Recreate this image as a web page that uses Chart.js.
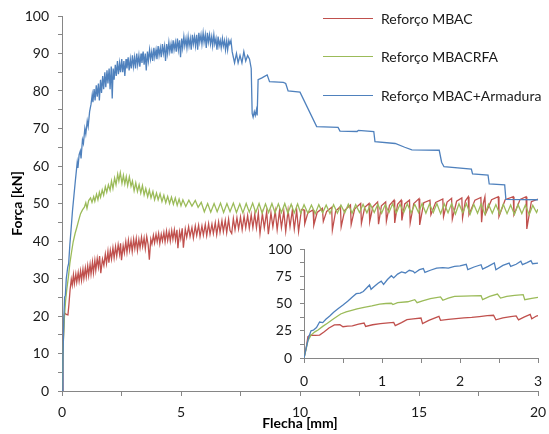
<!DOCTYPE html>
<html>
<head>
<meta charset="utf-8">
<script src="https://cdn.jsdelivr.net/npm/chart.js@4.4.1/dist/chart.umd.min.js"></script>
<style>
  body { margin: 0; background: #fff; }
  #wrap { position: relative; width: 549px; height: 434px; overflow: hidden; font-family: Lato, "Open Sans", sans-serif; }
  #main { position: absolute; left: 0; top: 0; }
  #inset { position: absolute; left: 258px; top: 238px; }
  #legend { position: absolute; left: 323px; top: 8px; }
  .row { display: flex; align-items: center; height: 20px; margin-bottom: 18.5px; font-size: 14px; color: #1a1a1a; white-space: nowrap; }
  .swatch { width: 50px; height: 0; border-top: 1.4px solid; margin-right: 8px; }
</style>
</head>
<body>
<div id="wrap">
  <canvas id="main" width="549" height="434"></canvas>
  <canvas id="inset" width="287" height="152"></canvas>
  <div id="legend"></div>
</div>
<script>
// series names and colours
const seriesNames = ['Reforço MBAC', 'Reforço MBACRFA', 'Reforço MBAC+Armadura'];
const seriesColors = ['#C0504D', '#9BBB59', '#4F81BD'];

// main curves: [flecha mm, força kN]
const mbac = [
  [0,0],[0.04,10],[0.08,19],[0.11,20.8],[0.18,20.4],[0.25,20.3],[0.29,23],[0.34,27],[0.39,29.8],[0.43,28.2],
  [0.48,31],[0.52,28.6],[0.58,31.2],[0.62,29],[0.68,31.6],[0.72,29.3],[0.78,32],[0.82,29.5],[0.88,32.5],[0.92,30],
  [0.98,32.8],[1.02,30.4],[1.08,33.4],[1.12,30.8],[1.18,33.8],[1.22,31.2],[1.28,34.4],[1.32,31.5],[1.38,34.8],[1.42,32.2],
  [1.48,35.3],[1.53,33],[1.58,36],[1.63,31.4],[1.7,35.2],[1.76,33.5],[1.82,36.5],[1.87,34],[1.93,37.2],[1.97,34.2],
  [2.03,37.5],[2.08,35.2],[2.14,38.2],[2.19,35.5],[2.25,38.5],[2.3,36],[2.36,39],[2.42,36.5],[2.46,39.4],[2.5,34.9],
  [2.57,38.8],[2.62,36.8],[2.68,39.8],[2.73,37],[2.79,40.2],[2.84,37.5],[2.9,40.1],[2.95,37.2],[3.01,40.5],[3.06,38],
  [3.12,40.7],[3.17,37.5],[3.23,40.4],[3.28,38.2],[3.34,41],[3.39,38.5],[3.45,40.8],[3.5,38],[3.56,41.2],[3.62,39],
  [3.67,35],[3.73,40.5],[3.78,39.2],[3.84,41.5],[3.89,39.5],[3.95,41.8],[4.0,39.8],[4.06,42],[4.11,39.3],[4.17,41.8],
  [4.22,40],[4.28,42.3],[4.33,39.8],[4.39,42.6],[4.44,40.2],[4.5,42.5],[4.55,40],[4.61,42.8],[4.66,40.5],[4.72,43],
  [4.77,40.3],[4.83,43],[4.87,38.1],[4.94,42.5],[4.99,40.6],[5.05,43.4],[5.1,38.2],[5.18,43.2],[5.24,41],[5.32,43.8],
  [5.38,41.2],[5.46,43.6],[5.52,40.8],[5.6,44],[5.66,41.5],[5.74,44.2],[5.8,41.2],[5.88,44],[5.94,41.6],[6.02,44.4],
  [6.08,41.4],[6.16,44.6],[6.22,41.8],[6.3,44.5],[6.36,42],[6.44,44.9],[6.5,41.7],[6.58,45.1],[6.64,42.3],[6.72,45.4],
  [6.78,42.5],[6.86,45.5],[6.92,42.2],[7.0,45.8],[7.06,42.8],[7.13,42],[7.2,46],[7.27,43],[7.35,46.2],[7.42,43.2],
  [7.5,46.4],[7.57,43],[7.65,46.6],[7.72,43.5],[7.8,46.8],[7.87,43.4],[7.95,47],[8.02,43.6],[8.1,47.2],[8.17,43.5],
  [8.25,47.4],[8.32,42],[8.42,47.3],[8.5,43.5],[8.6,47.8],[8.67,41.8],[8.78,47.5],[8.86,43.8],[8.96,48],[9.04,43],
  [9.14,48.1],[9.22,43.6],[9.32,47.9],[9.4,42.6],[9.5,48.2],[9.58,43.8],[9.68,48.3],[9.76,43.2],[9.86,48.2],[9.94,42.5],
  [10.06,48.4],[10.17,48.3],[10.2,44.6],[10.33,47.5],[10.55,48.3],[10.58,44.2],[10.72,47.6],[10.94,48.7],[10.98,45.2],[11.12,47.9],
  [11.33,49],[11.36,42.9],[11.5,48],[11.7,49.2],[11.73,43.8],[11.88,48.2],[12.12,49.6],[12.15,44.4],[12.3,48.6],[12.55,50],
  [12.58,44.7],[12.72,49],[12.9,50],[12.93,45.2],[13.06,49.1],[13.26,50.4],[13.3,44.5],[13.42,49.4],[13.6,50.4],[13.63,45.3],
  [13.76,49.5],[13.95,50.9],[13.98,44.8],[14.1,49.8],[14.25,50.9],[14.28,45.5],[14.4,49.9],[14.6,50.9],[14.63,44.8],[14.78,50],
  [15.0,51.3],[15.03,44.3],[15.2,50.2],[15.46,50.9],[15.5,47],[15.7,50.3],[16.0,51.2],[16.03,46.5],[16.18,50.4],[16.37,51.4],
  [16.4,45.8],[16.58,50.6],[16.8,51.5],[16.83,46.2],[16.95,50.7],[17.07,51.8],[17.1,47],[17.35,50.9],[17.6,51.6],[17.63,45],
  [17.7,50],[17.77,51.8],[17.8,47.3],[18.05,51],[18.33,51.8],[18.36,46.5],[18.62,51],[18.96,51.8],[18.99,47],[19.25,51.1],
  [19.5,51.8],[19.53,43.2],[19.72,50.5],[20,51.2]
];

const mbacrfa = [
  [0,0],[0.05,12],[0.1,19.5],[0.15,24],[0.2,27],[0.27,30.5],[0.33,34],[0.4,37],[0.47,39.8],[0.55,42],
  [0.63,43.8],[0.7,45.5],[0.78,47.3],[0.86,48.3],[0.94,49],[1.0,50.2],[1.05,48.7],[1.12,50.8],[1.2,51.5],[1.26,50.3],
  [1.33,51.8],[1.38,50.6],[1.45,52.5],[1.51,51],[1.57,53],[1.62,51.7],[1.69,53.6],[1.75,52.2],[1.82,54.5],[1.88,53],
  [1.95,55],[2.02,53.5],[2.08,56],[2.14,54],[2.21,56.8],[2.27,55],[2.34,57.8],[2.39,56],[2.45,58.2],[2.52,55.4],
  [2.58,57.5],[2.64,55.2],[2.7,57.2],[2.76,54.8],[2.83,57.1],[2.9,54.6],[2.96,56],[3.03,53.4],[3.1,55.5],[3.17,53.2],
  [3.24,55],[3.31,52.8],[3.38,54.8],[3.45,52.3],[3.52,54],[3.6,51.8],[3.67,53.6],[3.74,51.5],[3.82,53.2],[3.89,51],
  [3.97,52.8],[4.04,51],[4.12,52.6],[4.2,50.5],[4.28,52.2],[4.36,50.2],[4.44,51.9],[4.52,50],[4.6,51.7],[4.68,49.8],
  [4.76,51.5],[4.84,49.5],[4.92,51.2],[5.0,49.4],[5.08,51],[5.2,49.2],[5.33,50.9],[5.46,49.3],[5.6,50.8],[5.72,49],
  [5.85,50.3],[5.98,47.8],[6.12,50],[6.25,47.7],[6.39,50],[6.52,47.8],[6.66,50.1],[6.79,47.6],[6.93,50],[7.06,47.8],
  [7.2,50.1],[7.33,47.6],[7.47,49.9],[7.6,47.5],[7.74,50],[7.87,47.7],[8.01,50.1],[8.14,47.6],[8.28,50],[8.41,47.4],
  [8.55,49.9],[8.68,47.6],[8.82,50],[8.95,47.5],[9.09,49.9],[9.22,47.6],[9.36,50],[9.49,47.4],[9.63,49.8],[9.76,47.5],
  [9.9,49.9],[10.03,47.4],[10.17,49.7],[10.33,47.4],[10.48,49.6],[10.64,47.3],[10.79,49.7],[10.95,47.5],[11.1,49.6],[11.26,47.3],
  [11.41,49.7],[11.57,47.4],[11.72,49.6],[11.88,47.5],[12.03,49.8],[12.19,47.4],[12.34,49.7],[12.5,47.6],[12.65,49.8],[12.81,47.5],
  [12.96,49.7],[13.12,47.6],[13.27,49.8],[13.43,47.4],[13.58,49.7],[13.74,47.6],[13.89,49.9],[14.05,47.5],[14.2,49.8],[14.36,47.6],
  [14.51,49.9],[14.67,47.5],[14.82,49.8],[14.98,47.6],[15.13,50],[15.29,47.4],[15.44,49.9],[15.6,47.6],[15.75,50],[15.91,47.3],
  [16.06,49.9],[16.22,47.5],[16.37,50],[16.53,47.2],[16.68,49.9],[16.84,47.5],[16.99,50],[17.15,47.2],[17.3,49.8],[17.46,47.4],
  [17.61,49.9],[17.77,47.1],[17.92,49.8],[18.08,47.4],[18.23,49.7],[18.39,47.2],[18.54,49.8],[18.7,47.3],[18.85,49.6],[19.01,47.1],
  [19.16,49.7],[19.32,47.3],[19.47,49.6],[19.63,47],[19.78,49.5],[19.94,47.6],[20,48.5]
];

const mbacArm = [
  [0,0],[0.04,9],[0.08,20],[0.11,25],[0.14,25.5],[0.18,30],[0.24,33],[0.28,34],[0.33,39],[0.38,43],
  [0.44,48],[0.5,52],[0.56,56],[0.6,58.5],[0.64,61],[0.67,59.5],[0.72,63],[0.77,64],[0.8,62],[0.86,67],
  [0.9,66],[0.96,70],[1.0,68.5],[1.06,72],[1.1,70.5],[1.16,74.5],[1.22,76.5],[1.27,79],[1.3,77],[1.35,80.5],
  [1.39,77.5],[1.44,81.5],[1.48,78.5],[1.53,82],[1.57,77.5],[1.62,83],[1.66,79.5],[1.71,84],[1.75,80.5],[1.8,85],
  [1.84,81],[1.89,85.5],[1.93,82],[1.98,86],[2.02,80.5],[2.07,86.5],[2.11,78],[2.15,86],[2.19,83],[2.24,87],
  [2.28,84],[2.33,88],[2.37,84.5],[2.42,87.5],[2.46,85],[2.51,88.5],[2.55,85],[2.6,88],[2.64,84],[2.69,88.5],
  [2.73,86],[2.78,89],[2.82,85.5],[2.87,88.5],[2.91,86],[2.96,89.5],[3.0,86.5],[3.05,89],[3.09,86],[3.14,90],
  [3.18,87],[3.23,89.5],[3.27,86.5],[3.32,90],[3.36,87.5],[3.41,90.5],[3.45,87],[3.5,90],[3.54,85.5],[3.59,90.5],
  [3.63,88],[3.68,91],[3.72,88.5],[3.77,90.5],[3.81,88],[3.86,91.5],[3.9,89],[3.95,91],[3.99,88.5],[4.04,92],
  [4.08,89.5],[4.13,91.5],[4.17,89],[4.22,92.5],[4.26,90],[4.31,92],[4.35,88],[4.4,92.5],[4.44,90],[4.49,93],
  [4.53,90.5],[4.58,92.5],[4.62,90],[4.67,93.5],[4.71,91],[4.76,93],[4.8,90.5],[4.85,94],[4.89,91],[4.94,93.5],
  [4.98,89],[5.03,94],[5.07,91.5],[5.12,94.5],[5.16,92],[5.21,94],[5.25,91.5],[5.3,94.5],[5.34,92],[5.39,94],
  [5.43,91],[5.48,95],[5.52,92.5],[5.57,94.5],[5.61,92],[5.66,95],[5.7,91],[5.75,95.5],[5.79,93],[5.84,95],
  [5.88,92.5],[5.93,95.5],[5.97,93],[6.02,95],[6.06,91.5],[6.11,95.5],[6.15,93],[6.2,95],[6.24,92.5],[6.29,94.5],
  [6.33,92],[6.38,95],[6.42,92.5],[6.47,94],[6.51,91],[6.56,94.5],[6.6,92],[6.65,93.5],[6.69,91.5],[6.74,94],
  [6.78,92],[6.83,93.5],[6.87,91],[6.92,93.5],[6.96,91],[7.01,93.5],[7.05,92.5],[7.1,93.5],[7.15,90.5],[7.2,89],
  [7.25,87.5],[7.33,90],[7.4,87.5],[7.48,89.5],[7.56,87.5],[7.64,90.5],[7.72,88],[7.8,89.5],[7.88,88.5],[7.95,86],
  [7.99,74],[8.03,73],[8.08,74.5],[8.12,73.5],[8.17,75],[8.2,73.5],[8.24,83],[8.4,83.5],[8.62,84.3],[8.72,82.5],
  [9.3,82.3],[9.4,82],[9.5,80],[10.0,79.7],[10.7,70.5],[11.6,70.3],[11.68,69.3],[12.4,69.2],[12.45,69.5],[13.1,69.2],
  [13.15,66.5],[14.0,66],[14.4,65],[14.7,64.3],[15.85,64.2],[15.95,61],[16.05,59.8],[17.2,59.2],[17.25,57.9],[17.9,57.6],
  [17.95,55.2],[18.6,55],[18.65,51.1],[20,51]
];

// inset curves, first 3 mm
const mbacIn = [
  [0,0],[0.03,10],[0.05,19.6],[0.08,21],[0.14,20.8],[0.2,21],[0.26,24],[0.32,27.5],[0.39,30.3],[0.46,30.6],
  [0.5,28.7],[0.56,29.3],[0.62,29.5],[0.7,31],[0.77,32.1],[0.79,29],[0.88,30.5],[0.98,31.5],[1.08,32.2],[1.15,32.7],
  [1.17,29.7],[1.25,32.5],[1.32,35.2],[1.4,35.8],[1.5,36.7],[1.52,31.5],[1.6,34.5],[1.73,38.2],[1.75,34.6],[1.85,35.5],
  [1.95,36.2],[2.05,36.8],[2.15,37.3],[2.25,38],[2.35,38.8],[2.43,39.2],[2.46,35],[2.55,36.8],[2.65,38],[2.72,38.6],
  [2.75,35],[2.82,37.5],[2.9,40],[2.92,36],[2.98,38.5],[3.0,39]
];
const mbacrfaIn = [
  [0,0],[0.03,9],[0.05,16],[0.09,21],[0.14,24],[0.18,25.7],[0.24,29],[0.3,31.8],[0.38,36],[0.47,40.4],
  [0.54,42.3],[0.6,43.4],[0.68,45],[0.77,46.5],[0.87,47.8],[0.97,49.5],[1.05,50],[1.12,50.2],[1.14,49],[1.2,50.8],
  [1.33,51.6],[1.42,53.5],[1.45,50.8],[1.52,52.5],[1.62,54.5],[1.75,56],[1.78,53],[1.85,55],[1.93,56.6],[2.05,56.8],
  [2.15,57],[2.27,57.2],[2.29,53.5],[2.38,56.5],[2.48,58.7],[2.52,55],[2.6,56.5],[2.7,57.5],[2.81,58.1],[2.83,53.5],
  [2.92,54.8],[3.0,55.6]
];
const mbacArmIn = [
  [0,0],[0.03,10],[0.06,19],[0.09,25],[0.12,25.5],[0.16,28],[0.2,33],[0.24,32.5],[0.28,35.5],[0.33,38.5],
  [0.38,42],[0.44,45.5],[0.5,48.6],[0.56,52],[0.62,56],[0.67,59],[0.72,59.5],[0.76,61],[0.8,64],[0.84,67],
  [0.86,63],[0.9,65.5],[0.95,68.5],[0.99,70.5],[1.02,67.5],[1.07,72],[1.12,75.5],[1.15,73.5],[1.2,77],[1.25,79],
  [1.3,78],[1.35,80.5],[1.4,79.5],[1.42,78],[1.48,81],[1.53,82],[1.55,78.5],[1.62,80.5],[1.7,82.5],[1.78,83],
  [1.85,82.5],[1.93,84],[2.0,84.5],[2.08,86],[2.1,81],[2.18,83.5],[2.27,85.6],[2.29,81.5],[2.36,84],[2.44,87.2],
  [2.46,81],[2.55,85],[2.63,87],[2.65,84],[2.72,86],[2.78,88.7],[2.8,85.6],[2.86,87.5],[2.91,89.3],[2.93,86.5],
  [3.0,87]
];

const FONT = 'Lato, "Open Sans", sans-serif';
const AXIS_GREY = '#868686';

function toXY(pts) {
  return pts.map(p => ({ x: p[0], y: p[1] }));
}

function makeDatasets(list) {
  return list.map((pts, i) => ({
    label: seriesNames[i],
    data: toXY(pts),
    borderColor: seriesColors[i],
    borderWidth: 1.3,
    pointRadius: 0,
    tension: 0,
    order: 3 - i
  }));
}

// linear axis with minor ticks; only every `labelEvery` gets a label.
// fit() pins the axis size and drops the extra edge padding chart.js adds for labels
function makeAxis(opts) {
  const axis = {
    type: 'linear',
    min: opts.min,
    max: opts.max,
    border: { color: AXIS_GREY, width: 1 },
    grid: { drawOnChartArea: false, drawTicks: true, tickLength: opts.tickLength, color: AXIS_GREY },
    ticks: {
      stepSize: opts.step,
      autoSkip: false,
      maxRotation: 0,
      padding: opts.pad,
      color: '#1a1a1a',
      font: { family: FONT, size: 14 },
      callback: v => (Math.abs(v / opts.labelEvery - Math.round(v / opts.labelEvery)) < 1e-6 ? v : '')
    },
    afterFit: s => {
      opts.fit(s);
      s.paddingLeft = 0; s.paddingRight = 0; s.paddingTop = 0; s.paddingBottom = 0;
    }
  };
  if (opts.title) {
    axis.title = {
      display: true,
      text: opts.title,
      color: '#000',
      font: { family: FONT, size: 14, weight: 'bold' },
      padding: opts.titlePad
    };
  }
  return axis;
}

new Chart(document.getElementById('main'), {
  type: 'line',
  data: { datasets: makeDatasets([mbac, mbacrfa, mbacArm]) },
  options: {
    responsive: false,
    animation: false,
    layout: { padding: { left: 0, right: 11, top: 16, bottom: 0 } },
    plugins: { legend: { display: false }, tooltip: { enabled: false } },
    scales: {
      x: makeAxis({ min: 0, max: 20, step: 2.5, labelEvery: 5, tickLength: 5, pad: 8,
        title: 'Flecha [mm]', titlePad: { top: 0, bottom: 2 }, fit: s => { s.height = 43; } }),
      y: makeAxis({ min: 0, max: 100, step: 5, labelEvery: 10, tickLength: 4, pad: 9,
        title: 'Força [kN]', titlePad: { top: 9, bottom: 0 }, fit: s => { s.width = 62; } })
    }
  }
});

new Chart(document.getElementById('inset'), {
  type: 'line',
  data: { datasets: makeDatasets([mbacIn, mbacrfaIn, mbacArmIn]) },
  options: {
    responsive: false,
    animation: false,
    layout: { padding: { left: 0, right: 7, top: 11, bottom: 0 } },
    plugins: { legend: { display: false }, tooltip: { enabled: false } },
    scales: {
      x: makeAxis({ min: 0, max: 3, step: 0.5, labelEvery: 1, tickLength: 5, pad: 10,
        fit: s => { s.height = 32; } }),
      y: makeAxis({ min: 0, max: 100, step: 12.5, labelEvery: 25, tickLength: 4, pad: 8,
        fit: s => { s.width = 46; } })
    }
  }
});

// legend drawn as html rows at top right
const legend = document.getElementById('legend');
seriesNames.forEach((name, i) => {
  const row = document.createElement('div');
  row.className = 'row';
  row.innerHTML = '<span class="swatch" style="border-color:' + seriesColors[i] + '"></span><span>' + name + '</span>';
  legend.appendChild(row);
});
</script>
</body>
</html>
